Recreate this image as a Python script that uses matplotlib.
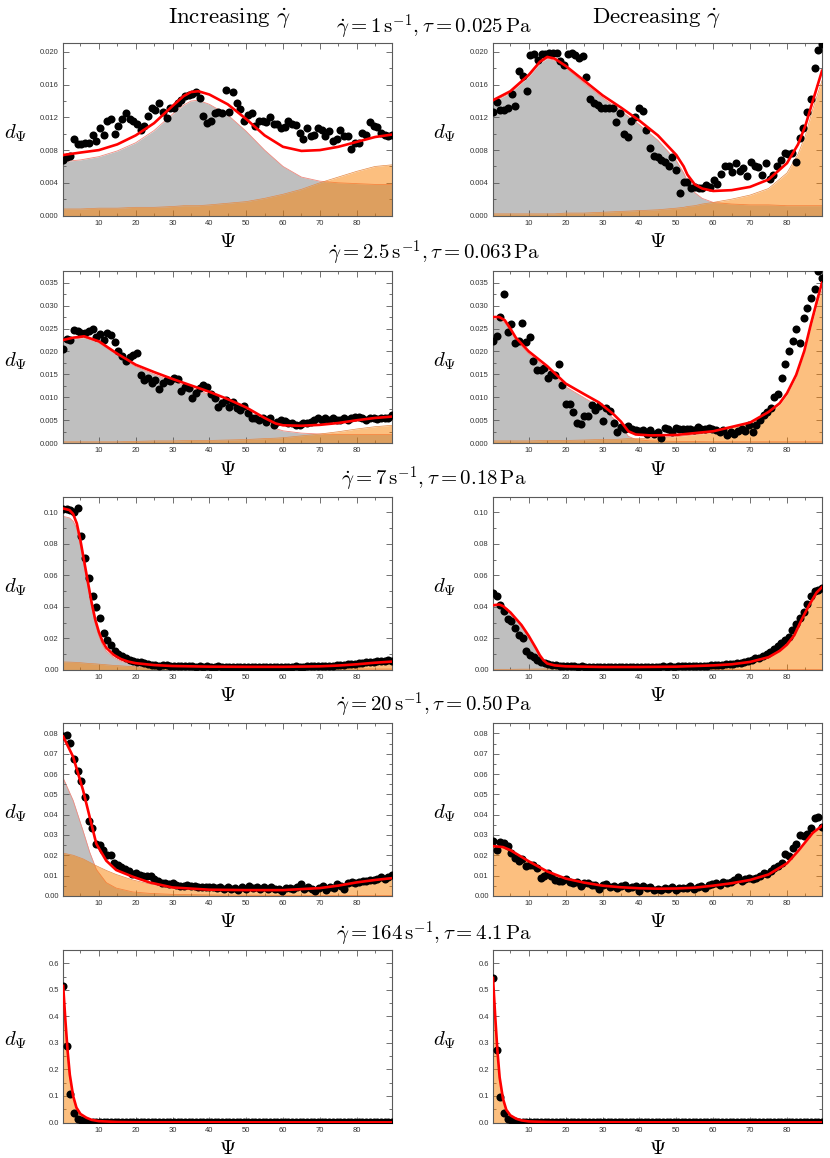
import numpy as np
import matplotlib
matplotlib.use("Agg")
import matplotlib.pyplot as plt
from matplotlib.ticker import MultipleLocator, FormatStrFormatter

plt.rcParams['mathtext.fontset'] = 'cm'
plt.rcParams['font.family'] = ['Liberation Sans', 'DejaVu Sans']

# ---------------- data ----------------
row_titles = [r'$\dot{\gamma} = 1\,\mathrm{s}^{-1}, \tau = 0.025\,\mathrm{Pa}$',
              r'$\dot{\gamma} = 2.5\,\mathrm{s}^{-1}, \tau = 0.063\,\mathrm{Pa}$',
              r'$\dot{\gamma} = 7\,\mathrm{s}^{-1}, \tau = 0.18\,\mathrm{Pa}$',
              r'$\dot{\gamma} = 20\,\mathrm{s}^{-1}, \tau = 0.50\,\mathrm{Pa}$',
              r'$\dot{\gamma} = 164\,\mathrm{s}^{-1}, \tau = 4.1\,\mathrm{Pa}$']
col_titles = [r'$\mathrm{Increasing}\ \dot{\gamma}$', r'$\mathrm{Decreasing}\ \dot{\gamma}$']

# Panel 1: increasing, 1 s^-1
p1_pts = [0.0068,0.0071,0.0073,0.0093,0.0087,0.0087,0.0089,0.0089,0.0098,0.0091,
          0.0107,0.0099,0.0116,0.0118,0.0100,0.0109,0.0118,0.0125,0.0118,0.0115,
          0.0112,0.0104,0.0110,0.0122,0.0131,0.0129,0.0137,0.0126,0.0119,0.0131,
          0.0131,0.0137,0.0141,0.0146,0.0148,0.0149,0.0151,0.0144,0.0122,0.0113,
          0.0115,0.0125,0.0127,0.0125,0.0153,0.0127,0.0151,0.0137,0.0130,0.0115,
          0.0123,0.0125,0.0109,0.0116,0.0115,0.0114,0.0121,0.0112,0.0112,0.0107,
          0.0108,0.0115,0.0112,0.0111,0.0101,0.0093,0.0107,0.0097,0.0098,0.0107,
          0.0105,0.0097,0.0103,0.0091,0.0093,0.0104,0.0097,0.0097,0.0081,0.0089,
          0.0089,0.0101,0.0099,0.0114,0.0110,0.0108,0.0101,0.0098,0.0097,0.0099]
p1_x = [0.3,5,10,15,20,25,30,33,35,37,40,45,50,55,60,65,70,75,80,85,89.6]
p1_fit = [0.0074,0.0077,0.0080,0.0087,0.0098,0.0113,0.0134,0.0146,0.0151,0.0152,0.0148,
          0.0136,0.0118,0.0098,0.0084,0.0079,0.0080,0.0084,0.0090,0.0096,0.0099]
p1_grey = [0.0066,0.0068,0.0072,0.0079,0.0089,0.0104,0.0124,0.0135,0.0140,0.0141,0.0136,
           0.0123,0.0103,0.0080,0.0060,0.0047,0.0042,0.0040,0.0039,0.0038,0.0038]
p1_orange = [0.0008,0.0008,0.0009,0.0009,0.0010,0.0010,0.0011,0.0012,0.0012,0.0012,0.0013,
             0.0015,0.0017,0.0021,0.0026,0.0032,0.0040,0.0047,0.0054,0.0060,0.0062]

# Panel 2: decreasing, 1 s^-1
p2_pts = [0.0126,0.0139,0.0129,0.0129,0.0132,0.0149,0.0134,0.0177,0.0171,0.0152,
          0.0196,0.0197,0.0190,0.0198,0.0198,0.0199,0.0199,0.0199,0.0189,0.0184,
          0.0198,0.0199,0.0196,0.0193,0.0195,0.0170,0.0143,0.0138,0.0135,0.0132,
          0.0132,0.0132,0.0131,0.0114,0.0125,0.0100,0.0096,0.0115,0.0120,0.0131,
          0.0128,0.0104,0.0083,0.0073,0.0072,0.0068,0.0066,0.0061,0.0072,0.0056,
          0.0027,0.0041,0.0041,0.0034,0.0035,0.0034,0.0034,0.0037,0.0035,0.0044,
          0.0039,0.0051,0.0060,0.0061,0.0053,0.0064,0.0055,0.0058,0.0048,0.0066,
          0.0061,0.0059,0.0050,0.0064,0.0045,0.0049,0.0061,0.0068,0.0076,0.0075,
          0.0076,0.0065,0.0095,0.0107,0.0126,0.0143,0.0180,0.0203,0.0210]
p2_x = [0.3,5,10,13,15,17,20,25,30,35,40,45,50,52,53,55,57,60,65,70,75,80,83,85,87,89.5]
p2_fit = [0.0141,0.0152,0.0172,0.0188,0.0194,0.0192,0.0183,0.0165,0.0147,0.0132,0.0116,0.0098,0.0074,
          0.0060,0.0050,0.0038,0.0033,0.0030,0.0031,0.0035,0.0044,0.0064,0.0087,0.0110,0.0140,0.0177]
p2_grey = [0.0139,0.0150,0.0170,0.0186,0.0192,0.0190,0.0181,0.0162,0.0144,0.0128,0.0111,0.0092,0.0067,
           0.0052,0.0042,0.0028,0.0021,0.0016,0.0014,0.0013,0.0013,0.0012,0.0012,0.0012,0.0012,0.0012]
p2_orange = [0.0002,0.0002,0.0002,0.0002,0.0002,0.0002,0.0003,0.0003,0.0004,0.0005,0.0006,0.0007,0.0009,
             0.0010,0.0011,0.0012,0.0014,0.0016,0.0020,0.0025,0.0033,0.0052,0.0075,0.0098,0.0130,0.0165]

# Panel 3: increasing, 2.5 s^-1
p3_pts = [0.0206,0.0228,0.0224,0.0247,0.0245,0.0241,0.0241,0.0245,0.0248,0.0232,
          0.0237,0.0224,0.0241,0.0236,0.0221,0.0201,0.0190,0.0179,0.0187,0.0193,
          0.0197,0.0149,0.0138,0.0142,0.0132,0.0138,0.0118,0.0131,0.0138,0.0135,
          0.0142,0.0140,0.0114,0.0123,0.0120,0.0098,0.0109,0.0120,0.0127,0.0123,
          0.0107,0.0098,0.0079,0.0087,0.0094,0.0079,0.0090,0.0077,0.0072,0.0082,
          0.0065,0.0055,0.0054,0.0050,0.0054,0.0046,0.0054,0.0040,0.0046,0.0051,
          0.0048,0.0043,0.0043,0.0039,0.0039,0.0045,0.0043,0.0046,0.0050,0.0054,
          0.0050,0.0055,0.0051,0.0054,0.0050,0.0051,0.0054,0.0051,0.0054,0.0057,
          0.0057,0.0054,0.0050,0.0054,0.0056,0.0052,0.0055,0.0054,0.0056,0.0061]
p3_x = [0.3,3,6,10,15,20,25,30,35,40,45,50,55,58,60,65,70,75,80,85,89.6]
p3_fit = [0.0225,0.0230,0.0233,0.0222,0.0195,0.0171,0.0155,0.0140,0.0126,0.0112,0.0096,
          0.0078,0.0055,0.0043,0.0039,0.0038,0.0040,0.0044,0.0050,0.0055,0.0058]
p3_grey = [0.0222,0.0227,0.0230,0.0219,0.0192,0.0167,0.0150,0.0135,0.0121,0.0106,0.0089,
           0.0070,0.0045,0.0032,0.0027,0.0022,0.0020,0.0019,0.0019,0.0019,0.0019]
p3_orange = [0.0003,0.0003,0.0003,0.0003,0.0003,0.0004,0.0005,0.0005,0.0006,0.0006,0.0007,
             0.0008,0.0010,0.0011,0.0012,0.0016,0.0020,0.0025,0.0031,0.0036,0.0039]

# Panel 4: decreasing, 2.5 s^-1
p4_pts = [0.0223,0.0234,0.0274,0.0326,0.0243,0.0259,0.0219,0.0223,0.0261,0.0221,
          0.0232,0.0179,0.0160,0.0160,0.0164,0.0143,0.0151,0.0148,0.0173,0.0127,
          0.0085,0.0085,0.0067,0.0045,0.0042,0.0060,0.0060,0.0083,0.0072,0.0081,
          0.0048,0.0076,0.0070,0.0045,0.0024,0.0035,0.0032,0.0037,0.0030,0.0028,
          0.0026,0.0028,0.0021,0.0028,0.0021,0.0024,0.0011,0.0033,0.0032,0.0024,
          0.0033,0.0030,0.0032,0.0030,0.0032,0.0028,0.0035,0.0032,0.0030,0.0033,
          0.0030,0.0028,0.0024,0.0028,0.0018,0.0024,0.0021,0.0026,0.0030,0.0026,
          0.0040,0.0024,0.0039,0.0051,0.0061,0.0068,0.0076,0.0101,0.0107,0.0142,
          0.0173,0.0202,0.0223,0.0248,0.0219,0.0272,0.0294,0.0317,0.0337,0.0376,0.0361]
p4_x = [0.3,2,3.5,5,6.5,10,15,20,25,29,33,35,37,39,43,50,60,70,75,78,80,82.5,84.7,86.5,88.4,89.5]
p4_fit = [0.0275,0.0275,0.0268,0.0250,0.0230,0.0200,0.0168,0.0130,0.0107,0.0089,0.0063,0.0047,0.0026,
          0.0019,0.0017,0.0018,0.0026,0.0045,0.0068,0.0087,0.0109,0.0149,0.0201,0.0260,0.0318,0.0350]
p4_grey = [0.0270,0.0270,0.0263,0.0245,0.0225,0.0195,0.0162,0.0123,0.0099,0.0080,0.0054,0.0037,0.0015,
           0.0008,0.0005,0.0004,0.0003,0.0003,0.0003,0.0003,0.0003,0.0003,0.0003,0.0003,0.0003,0.0003]
p4_orange = [0.0005,0.0005,0.0005,0.0005,0.0005,0.0005,0.0006,0.0006,0.0007,0.0008,0.0008,0.0009,0.0010,
             0.0010,0.0011,0.0014,0.0023,0.0042,0.0065,0.0084,0.0106,0.0146,0.0198,0.0255,0.0310,0.0332]

# Panel 5: increasing, 7 s^-1
p5_pts = [0.1019,0.1019,0.1015,0.1004,0.1026,0.0850,0.0712,0.0583,0.0470,0.0402,
          0.0327,0.0235,0.0192,0.0160,0.0122,0.0100,0.0085,0.0075,0.0064,0.0058,
          0.0049,0.0047,0.0041,0.0036,0.0032,0.0028,0.0024,0.0028,0.0030,0.0026,
          0.0024,0.0026,0.0022,0.0024,0.0021,0.0023,0.0020,0.0022,0.0019,0.0021,
          0.0020,0.0018,0.0021,0.0019,0.0017,0.0019,0.0020,0.0018,0.0019,0.0017,
          0.0018,0.0020,0.0018,0.0017,0.0019,0.0018,0.0020,0.0019,0.0017,0.0018,
          0.0020,0.0018,0.0019,0.0021,0.0019,0.0020,0.0022,0.0021,0.0023,0.0022,
          0.0025,0.0024,0.0027,0.0026,0.0030,0.0029,0.0033,0.0035,0.0038,0.0040,
          0.0043,0.0046,0.0049,0.0052,0.0050,0.0055,0.0058,0.0056,0.0060,0.0058]
p5_x = [0.3,2,3,4,5,6,7,8,9,10,11,12,14,16,18,20,25,30,40,50,60,70,75,80,85,89.6]
p5_fit = [0.1025,0.1015,0.0990,0.0930,0.0820,0.0690,0.0560,0.0430,0.0320,0.0240,0.0180,0.0140,0.0095,
          0.0068,0.0052,0.0042,0.0030,0.0024,0.0020,0.0019,0.0019,0.0022,0.0027,0.0035,0.0045,0.0052]
p5_grey = [0.0975,0.0965,0.0945,0.0895,0.0785,0.0655,0.0527,0.0400,0.0293,0.0215,0.0157,0.0119,0.0078,
           0.0054,0.0040,0.0032,0.0022,0.0017,0.0013,0.0011,0.0009,0.0007,0.0006,0.0006,0.0005,0.0005]
p5_orange = [0.0050,0.0049,0.0048,0.0047,0.0045,0.0043,0.0041,0.0039,0.0038,0.0036,0.0034,0.0032,0.0028,
             0.0025,0.0022,0.0019,0.0013,0.0009,0.0006,0.0006,0.0008,0.0015,0.0020,0.0029,0.0040,0.0047]

# Panel 6: decreasing, 7 s^-1
p6_pts = [0.0485,0.0470,0.0410,0.0374,0.0320,0.0310,0.0267,0.0220,0.0203,0.0118,
          0.0096,0.0079,0.0064,0.0049,0.0043,0.0036,0.0032,0.0028,0.0026,0.0024,
          0.0022,0.0023,0.0021,0.0020,0.0021,0.0019,0.0020,0.0018,0.0019,0.0020,
          0.0019,0.0018,0.0017,0.0019,0.0018,0.0017,0.0016,0.0018,0.0017,0.0015,
          0.0018,0.0019,0.0017,0.0019,0.0020,0.0018,0.0021,0.0019,0.0022,0.0020,
          0.0021,0.0023,0.0022,0.0024,0.0023,0.0025,0.0026,0.0024,0.0027,0.0028,
          0.0030,0.0029,0.0032,0.0034,0.0036,0.0039,0.0042,0.0045,0.0050,0.0055,
          0.0065,0.0075,0.0072,0.0085,0.0100,0.0110,0.0130,0.0150,0.0170,0.0190,
          0.0210,0.0250,0.0290,0.0330,0.0370,0.0420,0.0470,0.0500,0.0510,0.0520]
p6_x = [0.3,2,3,5,8,10,12,13,14,15,17,20,30,40,50,60,65,70,75,78,80,82,84,86,88,89.5]
p6_fit = [0.0410,0.0415,0.0405,0.0365,0.0285,0.0215,0.0135,0.0092,0.0060,0.0040,0.0028,0.0022,0.0018,
          0.0018,0.0020,0.0028,0.0035,0.0050,0.0080,0.0120,0.0160,0.0220,0.0320,0.0410,0.0490,0.0525]
p6_grey = [0.0408,0.0412,0.0403,0.0362,0.0282,0.0212,0.0132,0.0089,0.0057,0.0035,0.0020,0.0012,0.0005,
           0.0002,0.0001,0.0001,0.0001,0.0001,0.0001,0.0001,0.0001,0.0001,0.0001,0.0001,0.0001,0.0001]
p6_orange = [0.0003,0.0003,0.0003,0.0003,0.0004,0.0004,0.0005,0.0005,0.0006,0.0006,0.0007,0.0008,0.0012,
             0.0015,0.0018,0.0027,0.0034,0.0049,0.0079,0.0119,0.0159,0.0219,0.0319,0.0409,0.0489,0.0505]

# Panel 7: increasing, 20 s^-1
p7_pts = [0.0787,0.0792,0.0754,0.0676,0.0615,0.0566,0.0487,0.0368,0.0335,0.0256,
          0.0252,0.0226,0.0203,0.0201,0.0160,0.0153,0.0140,0.0132,0.0124,0.0107,
          0.0111,0.0102,0.0099,0.0099,0.0099,0.0082,0.0074,0.0061,0.0061,0.0058,
          0.0061,0.0054,0.0049,0.0049,0.0054,0.0049,0.0049,0.0041,0.0045,0.0041,
          0.0041,0.0045,0.0038,0.0041,0.0033,0.0041,0.0033,0.0038,0.0030,0.0041,
          0.0033,0.0049,0.0038,0.0041,0.0033,0.0045,0.0033,0.0041,0.0033,0.0033,
          0.0025,0.0038,0.0038,0.0033,0.0041,0.0058,0.0033,0.0041,0.0033,0.0025,
          0.0038,0.0049,0.0028,0.0041,0.0038,0.0058,0.0049,0.0033,0.0061,0.0066,
          0.0061,0.0069,0.0074,0.0071,0.0078,0.0078,0.0082,0.0091,0.0082,0.0094,0.0104]
p7_x = [0.3,3,5.7,7.5,9.3,12,14.7,19.2,23.7,30,40,50,60,70,75,80,85,89.6]
p7_fit = [0.0785,0.0685,0.0520,0.0388,0.0256,0.0173,0.0127,0.0094,0.0066,0.0041,0.0030,0.0028,
          0.0028,0.0038,0.0050,0.0066,0.0078,0.0087]
p7_grey = [0.0580,0.0470,0.0320,0.0215,0.0130,0.0065,0.0038,0.0019,0.0012,0.0007,0.0004,0.0003,
           0.0002,0.0002,0.0001,0.0001,0.0001,0.0001]
p7_orange = [0.0210,0.0200,0.0182,0.0165,0.0148,0.0125,0.0105,0.0078,0.0058,0.0040,0.0029,0.0026,
             0.0026,0.0036,0.0048,0.0064,0.0076,0.0085]

# Panel 8: decreasing, 20 s^-1
p8_pts = [0.0270,0.0228,0.0267,0.0262,0.0245,0.0212,0.0187,0.0171,0.0182,0.0146,
          0.0151,0.0154,0.0137,0.0088,0.0096,0.0113,0.0096,0.0079,0.0075,0.0075,
          0.0083,0.0066,0.0063,0.0068,0.0046,0.0063,0.0063,0.0055,0.0051,0.0035,
          0.0055,0.0058,0.0041,0.0046,0.0038,0.0046,0.0051,0.0038,0.0041,0.0046,
          0.0025,0.0050,0.0038,0.0041,0.0030,0.0035,0.0030,0.0038,0.0035,0.0041,
          0.0030,0.0038,0.0038,0.0038,0.0046,0.0035,0.0041,0.0046,0.0038,0.0055,
          0.0058,0.0063,0.0051,0.0068,0.0063,0.0068,0.0079,0.0091,0.0075,0.0084,
          0.0088,0.0083,0.0088,0.0096,0.0113,0.0108,0.0121,0.0137,0.0146,0.0162,
          0.0204,0.0195,0.0237,0.0257,0.0300,0.0295,0.0306,0.0333,0.0381,0.0386,0.0339]
p8_x = [0.3,3,5,10,15,20,25,30,35,40,45,50,55,60,65,70,75,80,83,85,87,89.5]
p8_fit = [0.0245,0.0240,0.0225,0.0170,0.0120,0.0085,0.0065,0.0050,0.0042,0.0037,0.0035,0.0036,
          0.0040,0.0050,0.0062,0.0078,0.0105,0.0160,0.0220,0.0265,0.0310,0.0345]
p8_orange = [0.0242,0.0237,0.0222,0.0167,0.0117,0.0082,0.0062,0.0047,0.0039,0.0034,0.0032,0.0033,
             0.0037,0.0047,0.0059,0.0075,0.0102,0.0157,0.0217,0.0262,0.0307,0.0342]

# Panel 9: increasing, 164 s^-1
p9_pts = [0.515,0.287,0.106,0.034,0.014,0.008,0.005,0.003,0.002,0.002,
          0.0015,0.0014,0.0013,0.0012,0.0012,0.0011,0.0011,0.0010,0.0010,0.0010,
          0.0010,0.0009,0.0009,0.0009,0.0009,0.0009,0.0008,0.0008,0.0008,0.0008,
          0.0008,0.0008,0.0008,0.0007,0.0007,0.0007,0.0007,0.0007,0.0007,0.0007,
          0.0007,0.0007,0.0007,0.0007,0.0006,0.0006,0.0006,0.0006,0.0006,0.0006,
          0.0006,0.0006,0.0006,0.0006,0.0006,0.0006,0.0006,0.0006,0.0006,0.0006,
          0.0006,0.0006,0.0006,0.0006,0.0006,0.0006,0.0006,0.0006,0.0006,0.0006,
          0.0006,0.0006,0.0006,0.0006,0.0006,0.0007,0.0007,0.0007,0.0007,0.0007,
          0.0008,0.0008,0.0008,0.0009,0.0009,0.0010,0.0010,0.0011,0.0012,0.0012]
p9_x = [0.3,0.9,1.5,2.1,3,3.9,5,6.6,8,10,15,20,50,89.6]
p9_fit = [0.515,0.385,0.270,0.180,0.100,0.056,0.032,0.018,0.010,0.005,0.002,0.0012,0.0006,0.0005]

# Panel 10: decreasing, 164 s^-1
p10_pts = [0.545,0.275,0.097,0.035,0.015,0.008,0.004,0.003,0.002,0.002,
           0.0015,0.0014,0.0013,0.0012,0.0012,0.0011,0.0011,0.0010,0.0010,0.0010,
           0.0010,0.0009,0.0009,0.0009,0.0009,0.0009,0.0008,0.0008,0.0008,0.0008,
           0.0008,0.0008,0.0008,0.0007,0.0007,0.0007,0.0007,0.0007,0.0007,0.0007,
           0.0007,0.0007,0.0007,0.0007,0.0006,0.0006,0.0006,0.0006,0.0006,0.0006,
           0.0006,0.0006,0.0006,0.0006,0.0006,0.0006,0.0006,0.0006,0.0006,0.0006,
           0.0006,0.0006,0.0006,0.0006,0.0006,0.0006,0.0006,0.0006,0.0006,0.0006,
           0.0006,0.0006,0.0006,0.0006,0.0006,0.0007,0.0007,0.0007,0.0007,0.0007,
           0.0008,0.0008,0.0008,0.0009,0.0009,0.0010,0.0010,0.0011,0.0012,0.0012]
p10_x = [0.3,0.9,1.5,2.1,3,3.9,5,6.6,8,10,15,20,50,89.5]
p10_fit = [0.545,0.400,0.270,0.170,0.090,0.048,0.027,0.014,0.008,0.004,0.002,0.0012,0.0006,0.0005]

# axis settings per row: (ylim top, major, minor, format)
row_y = [(0.0211, 0.004, 0.002, '%.3f'),
         (0.0376, 0.005, 0.0025, '%.3f'),
         (0.1096, 0.02, 0.01, '%.2f'),
         (0.085, 0.01, 0.005, '%.2f'),
         (0.65, 0.1, 0.05, '%.1f')]

panels = [
    (p1_pts, p1_x, p1_fit, p1_grey, p1_orange, (0.25, 89.6)),
    (p2_pts, p2_x, p2_fit, p2_grey, p2_orange, (0.3, 89.5)),
    (p3_pts, p3_x, p3_fit, p3_grey, p3_orange, (0.25, 89.6)),
    (p4_pts, p4_x, p4_fit, p4_grey, p4_orange, (0.3, 89.5)),
    (p5_pts, p5_x, p5_fit, p5_grey, p5_orange, (0.25, 89.6)),
    (p6_pts, p6_x, p6_fit, p6_grey, p6_orange, (0.3, 89.5)),
    (p7_pts, p7_x, p7_fit, p7_grey, p7_orange, (0.25, 89.6)),
    (p8_pts, p8_x, p8_fit, None, p8_orange, (0.3, 89.5)),
    (p9_pts, p9_x, p9_fit, None, p9_fit, (0.25, 89.6)),
    (p10_pts, p10_x, p10_fit, None, p10_fit, (0.3, 89.5)),
]

# ---------------- figure ----------------
W, H = 830, 1158
fig = plt.figure(figsize=(W / 100, H / 100), dpi=100)

col_left = [63, 493]
ax_w = 329
ax_h = 172.5
row_top = [43, 270.7, 497.3, 723.3, 950]
row_title_y = [27, 253, 479, 705, 934]

grey_c = '#bfbfbf'
orange_c = (251 / 255, 129 / 255, 1 / 255)
frame_c = '#5a5a5a'

for i, (pts, cx, fit, grey, orange, xl) in enumerate(panels):
    r, c = divmod(i, 2)
    left = col_left[c] / W
    bottom = 1 - (row_top[r] + ax_h) / H
    ax = fig.add_axes([left, bottom, ax_w / W, ax_h / H])
    ytop, ymaj, ymin, yfmt = row_y[r]

    if grey is not None:
        ax.fill_between(cx, 0, grey, color=grey_c, lw=0, zorder=1)
        ax.plot(cx, grey, color='#f08a80', lw=0.6, zorder=1.5)
    if orange is not None:
        ax.fill_between(cx, 0, orange, color=orange_c, alpha=0.5, lw=0, zorder=2)
        ax.plot(cx, orange, color='#e58a45', lw=0.5, zorder=2.5)

    px = np.linspace(xl[0], xl[1], len(pts))
    ax.plot(px, pts, 'o', color='black', ms=5.8, mew=0, zorder=3)
    ax.plot(cx, fit, color='#ff0000', lw=1.9, zorder=4, solid_joinstyle='round')

    ax.set_xlim(xl)
    ax.set_ylim(0, ytop)
    ax.xaxis.set_major_locator(MultipleLocator(10))
    ax.xaxis.set_minor_locator(MultipleLocator(5))
    ax.yaxis.set_major_locator(MultipleLocator(ymaj))
    ax.yaxis.set_minor_locator(MultipleLocator(ymin))
    ax.yaxis.set_major_formatter(FormatStrFormatter(yfmt))
    ax.tick_params(which='both', direction='in', top=True, right=True,
                   labelsize=5.5, labelcolor='#333333', color=frame_c, width=0.6, pad=3)
    ax.tick_params(which='major', length=4)
    ax.tick_params(which='minor', length=2)
    for sp in ax.spines.values():
        sp.set_color(frame_c)
        sp.set_linewidth(0.8)

    cx_px = col_left[c] + ax_w / 2
    fig.text(cx_px / W, 1 - (row_top[r] + ax_h + 26) / H, r'$\Psi$',
             ha='center', va='center', fontsize=15)
    ylab_x = [16, 445][c]
    fig.text(ylab_x / W, 1 - (row_top[r] + ax_h / 2 + 4) / H, r'$d_\Psi$',
             ha='center', va='center', fontsize=15)

for r in range(5):
    fig.text(434 / W, 1 - row_title_y[r] / H, row_titles[r], ha='center', va='center', fontsize=15)

fig.text(229 / W, 1 - 19 / H, col_titles[0], ha='center', va='center', fontsize=16.5)
fig.text(657 / W, 1 - 19 / H, col_titles[1], ha='center', va='center', fontsize=16.5)

fig.savefig('out.png', dpi=100)
